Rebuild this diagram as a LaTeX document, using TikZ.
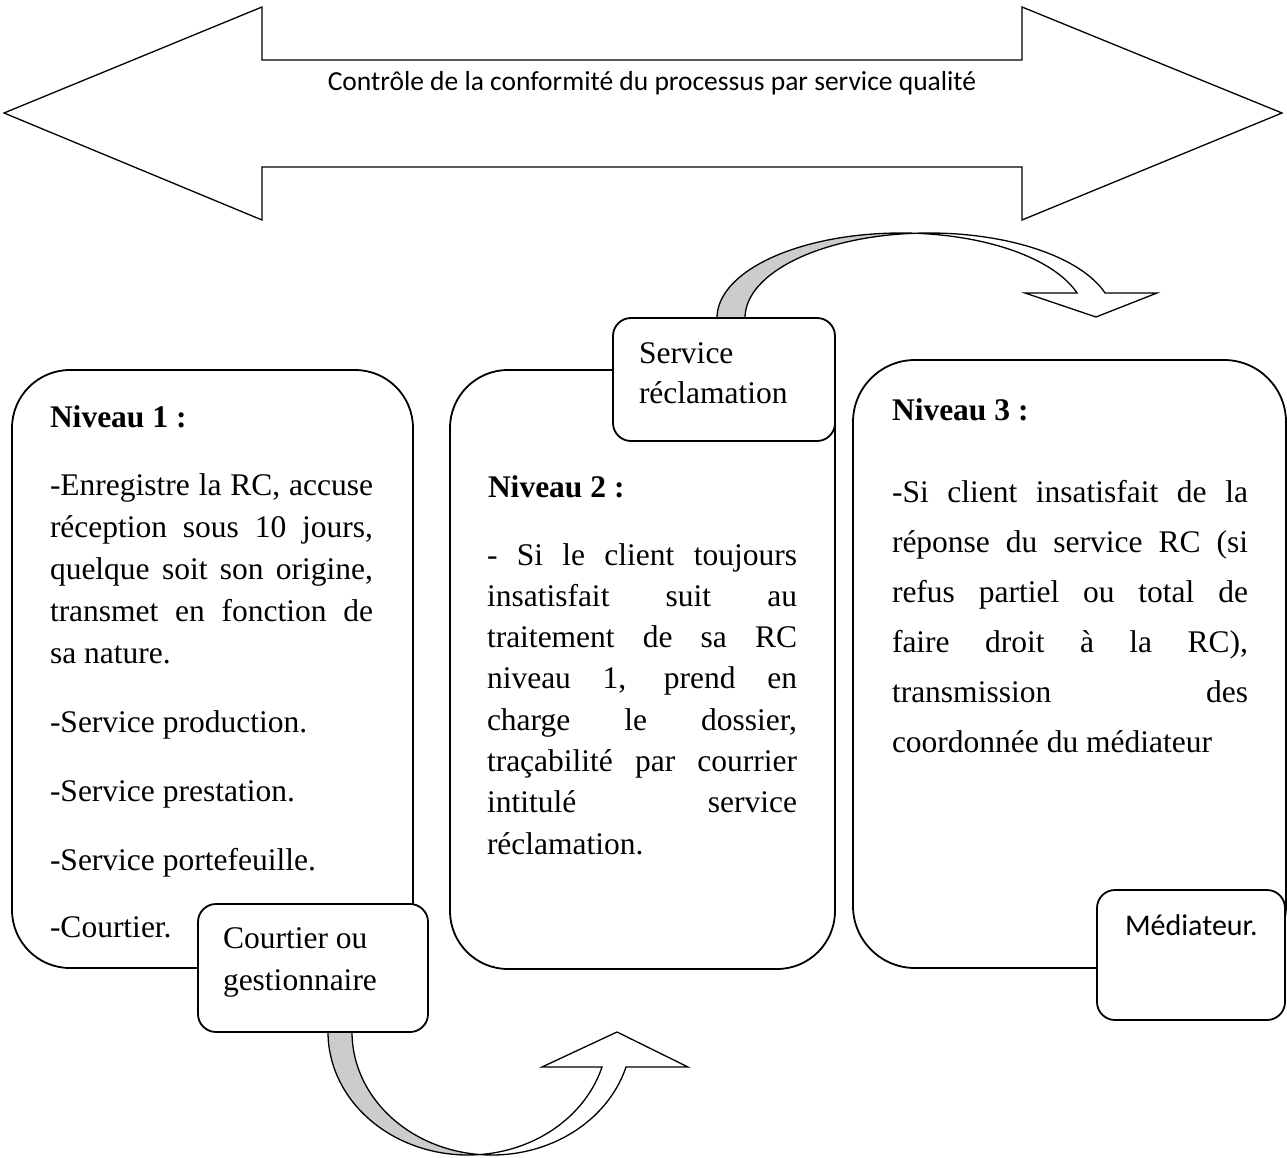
\documentclass[tikz,border=0pt]{standalone}
\usepackage{fontspec}
\setmainfont{Liberation Serif}
\newfontfamily\calibri{Carlito}
\begin{document}
\begin{tikzpicture}[x=1pt,y=-1pt,
  bigbox/.style={draw=black, line width=1.8pt, fill=white, inner sep=0pt, outer sep=0pt, rectangle},
  smallbox/.style={bigbox, rounded corners=18pt},
  shape line/.style={draw=black, line width=1.3pt, line join=miter},
  txt/.style={anchor=base west, inner sep=0pt, outer sep=0pt, font=\rmfamily\fontsize{31.5}{38}\selectfont},
  cal/.style={inner sep=0pt, outer sep=0pt, font=\calibri\fontsize{30}{36}\selectfont},
  back/.style={fill=black!20}]
\useasboundingbox (0,0) rectangle (1287,1158);
\clip (0,0) rectangle (1287,1158);

% double-headed arrow for the quality control
\draw[shape line, fill=white] (4,113) -- (262,7) -- (262,60) -- (1022,60) -- (1022,7)
  -- (1282,113) -- (1022,220) -- (1022,167) -- (262,167) -- (262,220) -- cycle;
\node[cal, anchor=base, font=\calibri\fontsize{27.5}{33}\selectfont] (ctrl) at (652,91) {Contrôle de la conformité du processus par service qualité};

% curved arrow from "Service réclamation" to level 3 (two shifted ellipses)
\draw[shape line, back]
  plot[domain=180:274.36, samples=80] ({901.07+184.07*cos(\x)},{318+85*sin(\x)})
  -- plot[domain=265.64:180, samples=80] ({929.07+184.07*cos(\x)},{318+85*sin(\x)}) -- cycle;
\draw[shape line, fill=white]
  plot[domain=265.64:342.9, samples=80] ({929.07+184.07*cos(\x)},{318+85*sin(\x)})
  -- (1157,293) -- (1096,317) -- (1025,293)
  -- plot[domain=342.9:274.36, samples=80] ({901.07+184.07*cos(\x)},{318+85*sin(\x)}) -- cycle;

% curved arrow from "Courtier ou gestionnaire" to level 2
\draw[shape line, back]
  plot[domain=180:85.08, samples=80] ({467.89+139.89*cos(\x)},{1032+123*sin(\x)})
  -- plot[domain=94.92:180, samples=80] ({491.89+139.89*cos(\x)},{1032+123*sin(\x)}) -- cycle;
\draw[shape line, fill=white]
  plot[domain=94.92:16.53, samples=80] ({491.89+139.89*cos(\x)},{1032+123*sin(\x)})
  -- (688,1067) -- (617,1032) -- (542,1067)
  -- plot[domain=16.53:85.08, samples=80] ({467.89+139.89*cos(\x)},{1032+123*sin(\x)}) -- cycle;

% the three level boxes
\node[bigbox, rounded corners=58pt, minimum width=401pt, minimum height=598pt] (lvl1) at (212.5,669) {};
\node[bigbox, rounded corners=58pt, minimum width=385pt, minimum height=599pt] (lvl2) at (642.5,669.5) {};
\node[bigbox, rounded corners=62pt, minimum width=433pt, minimum height=608pt] (lvl3) at (1069.5,664) {};

% the actor boxes
\node[smallbox, minimum width=222pt, minimum height=123pt] (srv) at (724,379.5) {};
\node[smallbox, minimum width=230pt, minimum height=128pt] (crt) at (313,968) {};
\node[smallbox, minimum width=188pt, minimum height=130pt] (med) at (1191,955) {};

\node[txt] (srv1) at (639,363) {Service};
\node[txt] (srv2) at (639,403) {réclamation};
\node[txt] (crt1) at (223,948) {Courtier ou};
\node[txt] (crt2) at (223,990) {gestionnaire};
\node[cal, anchor=base west] (med1) at (1125,935) {Médiateur.};

% level 1
\node[txt] (n1) at (50,427) {\textbf{Niveau 1 :}};
\foreach \l [count=\i] in {{-Enregistre la RC, accuse},{réception sous 10 jours,},{quelque soit son origine,},{transmet en fonction de}}
  \node[txt] (a\i) at (50,{495+42.2*(\i-1)}) {\hbox to 323pt{\l}};
\node[txt] (a5) at (50,663.8) {sa nature.};
\node[txt] (a6) at (50,732) {-Service production.};
\node[txt] (a7) at (50,801) {-Service prestation.};
\node[txt] (a8) at (50,870) {-Service portefeuille.};
\node[txt] (a9) at (50,937) {-Courtier.};

% level 2
\node[txt] (n2) at (488,497) {\textbf{Niveau 2 :}};
\foreach \l [count=\i] in {{- Si le client toujours},{insatisfait suit au},{traitement de sa RC},{niveau 1, prend en},{charge le dossier,},{traçabilité par courrier},{intitulé service}}
  \node[txt] (b\i) at (487,{565+41.3*(\i-1)}) {\hbox to 310pt{\l}};
\node[txt] (b8) at (487,854) {réclamation.};

% level 3
\node[txt] (n3) at (892,420) {\textbf{Niveau 3 :}};
\foreach \l [count=\i] in {{-Si client insatisfait de la},{réponse du service RC (si},{refus partiel ou total de},{faire droit à la RC),},{transmission des}}
  \node[txt] (c\i) at (892,{502+50*(\i-1)}) {\hbox to 356pt{\l}};
\node[txt] (c6) at (892,752) {coordonnée du médiateur};
\end{tikzpicture}
\end{document}
